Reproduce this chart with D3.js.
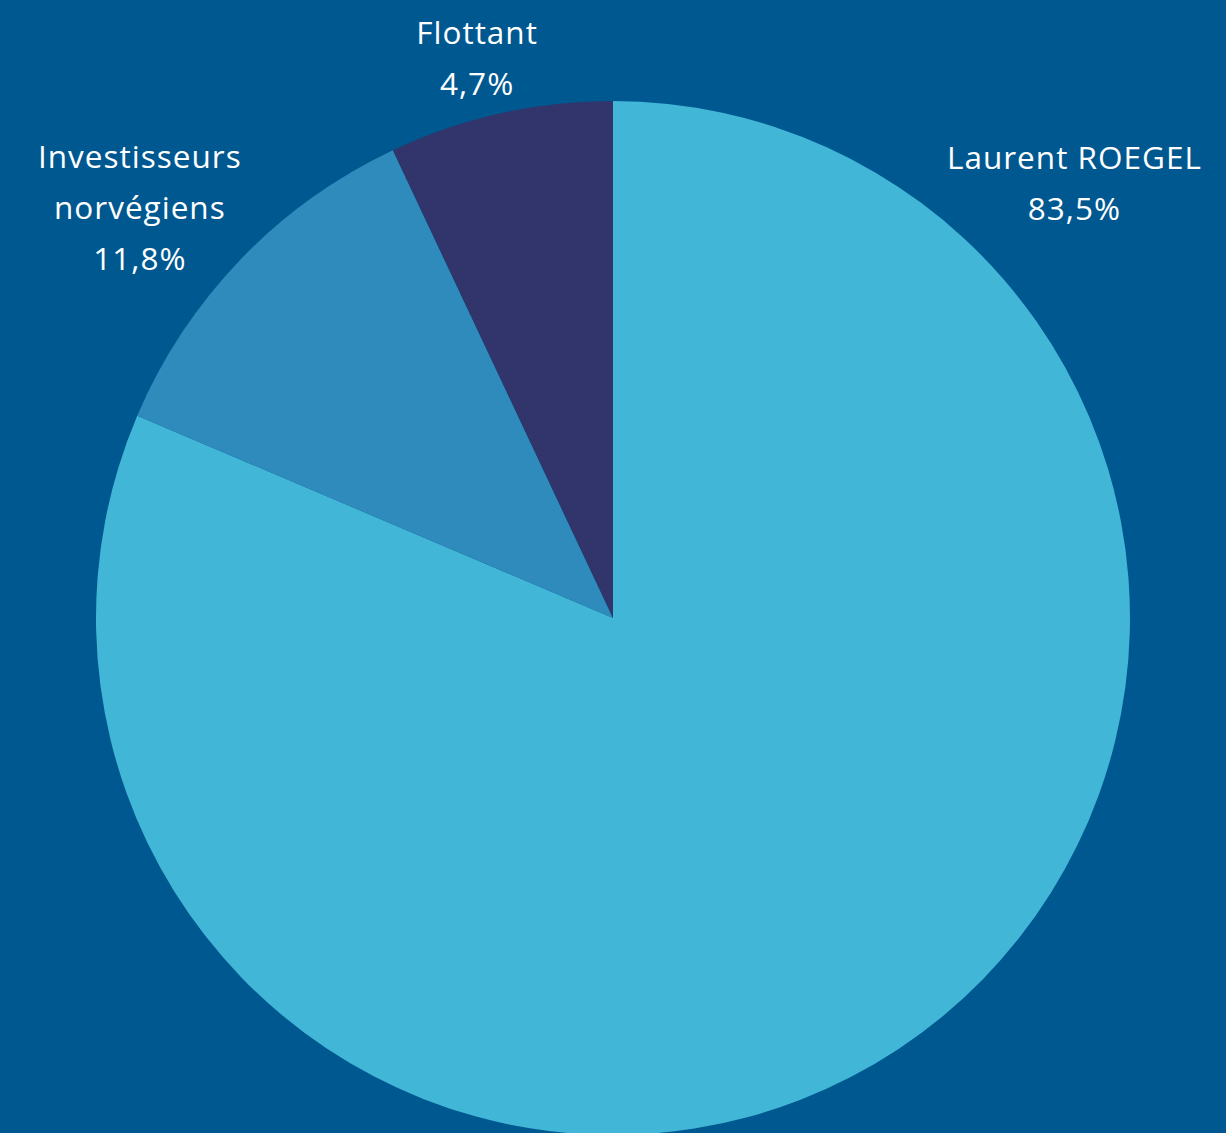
<!DOCTYPE html>
<html>
<head>
<meta charset="utf-8">
<script src="https://cdn.jsdelivr.net/npm/d3@7"></script>
<style>
  html, body { margin: 0; padding: 0; background: #005891; }
  svg { display: block; }
  .label { fill: #fff; font-family: "Open Sans", Lato, sans-serif; font-size: 31.5px; letter-spacing: 1px; font-variant-ligatures: none; }
</style>
</head>
<body>
<div id="chart"></div>
<script>
// slice shares as drawn in the picture, clockwise from 12 o'clock
var names = ["Laurent ROEGEL", "Investisseurs norvégiens", "Flottant"];
var shares = [81.4, 11.6, 7.0];
// percentages printed on the labels
var shareLabels = ["83,5%", "11,8%", "4,7%"];
var labelLines = [["Laurent ROEGEL"], ["Investisseurs", "norvégiens"], ["Flottant"]];
var colors = ["#42b6d6", "#2e8bbb", "#31356b"];

var width = 1226, height = 1133;
var cx = 613, cy = 618, radius = 517;

// where each label block sits, in polar terms around the centre (degrees clockwise from top)
var labelSpots = [{a: 46.7, r: 634}, {a: -49.1, r: 626}, {a: -13.65, r: 576}];

var svg = d3.select("#chart").append("svg")
  .attr("width", width)
  .attr("height", height);

svg.append("rect")
  .attr("width", width)
  .attr("height", height)
  .attr("fill", "#005891");

var pie = d3.pie().sort(null).value(function(d) { return d; });
var arc = d3.arc().innerRadius(0).outerRadius(radius);

var g = svg.append("g").attr("transform", "translate(" + cx + "," + cy + ")");

g.selectAll(".slice")
  .data(pie(shares))
  .enter().append("path")
  .attr("class", "slice")
  .attr("fill", function(d, i) { return colors[i]; })
  .attr("d", arc);

var lineH = 51;
var lbl = g.selectAll(".label")
  .data(names)
  .enter().append("text")
  .attr("class", "label")
  .attr("text-anchor", "middle")
  .attr("transform", function(d, i) {
    var s = labelSpots[i];
    var t = s.a * Math.PI / 180;
    var n = labelLines[i].length + 1;
    var x = Math.sin(t) * s.r;
    var y = -Math.cos(t) * s.r - (n - 1) * lineH / 2 + 11;
    return "translate(" + x + "," + y + ")";
  });

lbl.each(function(d, i) {
  var t = d3.select(this);
  var lines = labelLines[i].concat([shareLabels[i]]);
  lines.forEach(function(l, k) {
    t.append("tspan").attr("x", 0).attr("dy", k === 0 ? 0 : lineH).text(l);
  });
});
</script>
</body>
</html>
